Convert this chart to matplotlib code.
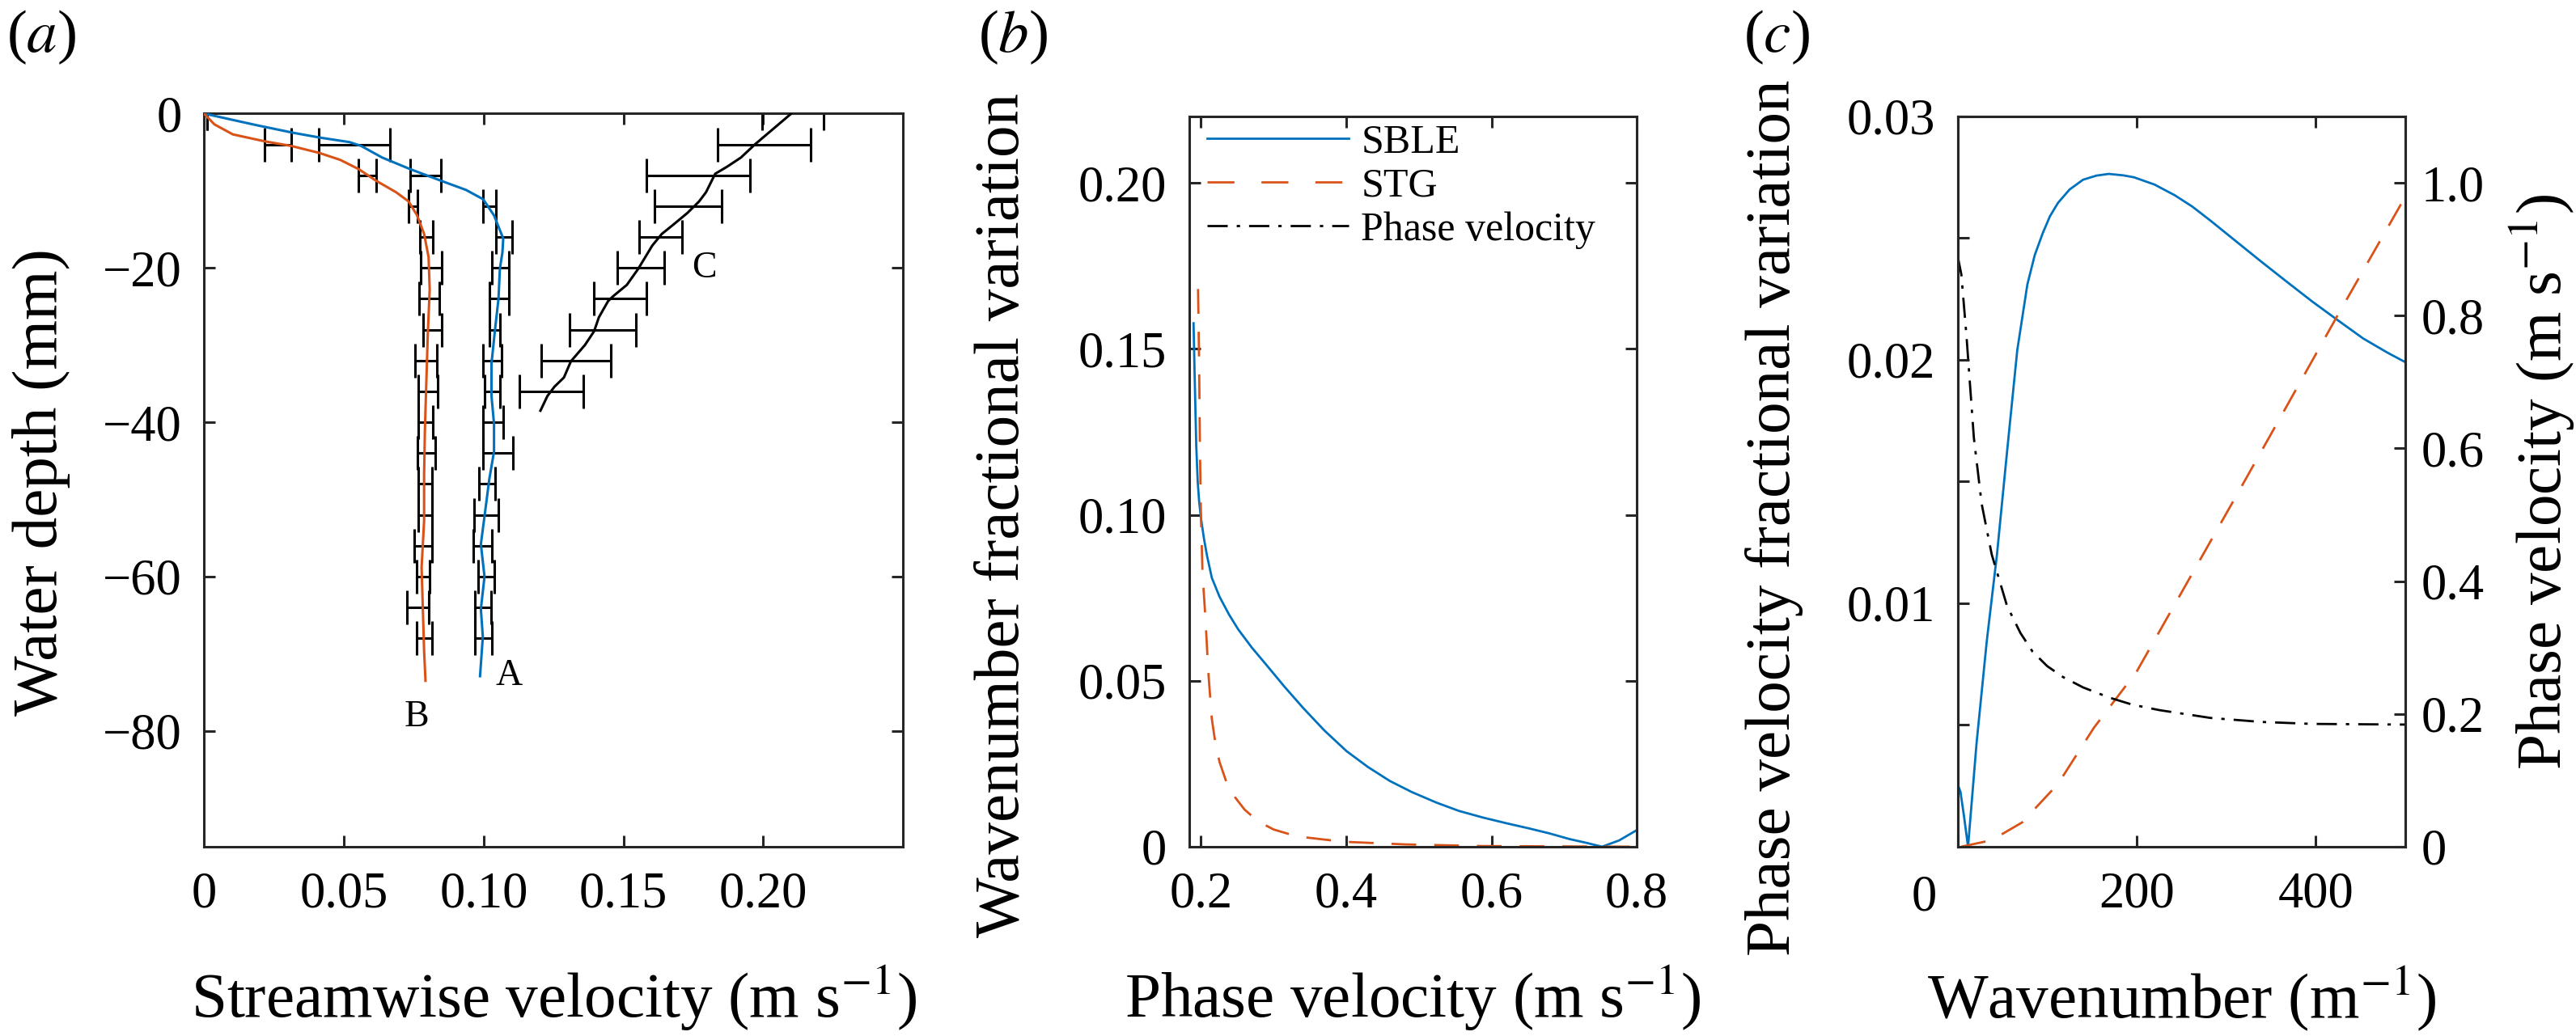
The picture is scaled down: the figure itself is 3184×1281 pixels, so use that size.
import matplotlib
matplotlib.use("Agg")
import matplotlib.pyplot as plt
from matplotlib.lines import Line2D

plt.rcParams['font.family'] = ['Liberation Serif', 'DejaVu Serif']
plt.rcParams['mathtext.fontset'] = 'stix'
plt.rcParams['lines.scale_dashes'] = False

BLUE = '#0072BD'
ORANGE = '#D95319'
AXC = '#262626'

# ---- panel (a): velocity profiles -------------------------------------
bar_depth = [0, -4, -8, -12, -16, -20, -24, -28, -32, -36, -40, -44, -48, -52, -56, -60, -64, -68]
a_bar_u = [0.0005, 0.0538, 0.0792, 0.1021, 0.1074, 0.1059, 0.1055, 0.1039, 0.1032, 0.1030,
           0.1034, 0.1051, 0.1011, 0.1010, 0.0995, 0.1009, 0.0998, 0.0999]
a_bar_err = [0.0005, 0.0127, 0.0055, 0.0023, 0.0029, 0.0031, 0.0035, 0.0019, 0.0033, 0.0027,
             0.0036, 0.0053, 0.0029, 0.0043, 0.0033, 0.0028, 0.0028, 0.0029]
b_bar_u = [0.0005, 0.0264, 0.0584, 0.0747, 0.0795, 0.0812, 0.0806, 0.0817, 0.0793, 0.0802,
           0.0791, 0.0795, 0.0791, 0.0790, 0.0784, 0.0784, 0.0764, 0.0788]
b_bar_err = [0.0005, 0.0048, 0.0031, 0.0015, 0.0022, 0.0038, 0.0036, 0.0033, 0.0039, 0.0035,
             0.0026, 0.0033, 0.0024, 0.0025, 0.0031, 0.0023, 0.0039, 0.0027]
c_bar_depth = [0, -4, -8, -12, -16, -20, -24, -28, -32, -36]
c_bar_u = [0.2106, 0.2003, 0.1768, 0.1730, 0.1632, 0.1562, 0.1488, 0.1425, 0.1330, 0.1242]
c_bar_err = [0.0110, 0.0167, 0.0185, 0.0120, 0.0076, 0.0083, 0.0095, 0.0118, 0.0125, 0.0114]

prof_a_u = [0, 0.0187, 0.032, 0.0412, 0.052, 0.0562, 0.0637, 0.0737, 0.0847, 0.0937, 0.0998,
            0.1037, 0.107, 0.1067, 0.1058, 0.1053, 0.104, 0.1028, 0.1028, 0.1037, 0.1037,
            0.102, 0.1003, 0.099, 0.1003, 0.099, 0.0997, 0.0987]
prof_a_z = [0, -1.5, -2.5, -3.1, -3.7, -4.2, -5.7, -7.2, -8.7, -9.9, -11.1, -13.2, -16.2,
            -18.0, -20.1, -24.0, -28.2, -32.4, -36.6, -40.2, -43.8, -47.4, -52.2, -55.8,
            -60.0, -64.2, -67.8, -72.9]
prof_b_u = [0, 0.0037, 0.0103, 0.0217, 0.0312, 0.0412, 0.0487, 0.0553, 0.0615, 0.0687, 0.0732,
            0.0762, 0.0787, 0.0803, 0.0807, 0.08, 0.0795, 0.079, 0.0787, 0.0787, 0.0778,
            0.0783, 0.0787, 0.0792]
prof_b_z = [0, -1.4, -2.7, -3.6, -4.2, -5.1, -6.0, -7.2, -8.7, -10.2, -11.4, -13.2, -15.6,
            -18.6, -22.8, -28.8, -34.8, -40.8, -46.8, -52.8, -58.8, -64.8, -69.6, -73.5]
prof_c_u = [0.21, 0.197, 0.192, 0.187, 0.1828, 0.1795, 0.177, 0.1728, 0.1678, 0.1637,
            0.1603, 0.1578, 0.1553, 0.1512, 0.1462, 0.1445, 0.1412, 0.1395, 0.1362, 0.1312,
            0.1287, 0.1253, 0.1228, 0.1203]
prof_c_z = [0, -4.0, -5.7, -6.9, -7.8, -10.2, -11.4, -12.9, -14.4, -15.6, -17.1, -18.6,
            -20.1, -22.2, -23.7, -24.3, -26.4, -28.2, -30.0, -32.1, -34.2, -35.4, -36.6, -38.5]

# ---- panel (b): wavenumber fractional variation vs phase velocity -------
sble_c = [0.1898, 0.1910, 0.1923, 0.1935, 0.1955, 0.1975, 0.2000, 0.2040, 0.2083, 0.2150,
          0.2256, 0.2385, 0.2512, 0.2700, 0.2896, 0.3150, 0.3407, 0.3700, 0.4004, 0.4300,
          0.4601, 0.4900, 0.5241, 0.5550, 0.5880, 0.6200, 0.6520, 0.6800, 0.7075, 0.7300,
          0.7522, 0.7757, 0.8000]
sble_k = [0.1577, 0.1450, 0.1325, 0.1210, 0.1100, 0.1040, 0.0990, 0.0930, 0.0877, 0.0810,
          0.0753, 0.0700, 0.0655, 0.0600, 0.0549, 0.0482, 0.0418, 0.0350, 0.0288, 0.0240,
          0.0198, 0.0165, 0.0133, 0.0108, 0.0088, 0.0071, 0.0055, 0.0040, 0.0023, 0.0012,
          0.0000, 0.0019, 0.0050]
stg_c = [0.1960, 0.1974, 0.1987, 0.2000, 0.2021, 0.2064, 0.2100, 0.2149, 0.2200, 0.2256,
         0.2350, 0.2469, 0.2600, 0.2789, 0.3000, 0.3322, 0.3962, 0.4814, 0.5880, 0.8000]
stg_k = [0.1680, 0.1465, 0.1185, 0.0996, 0.0827, 0.0680, 0.0530, 0.0386, 0.0310, 0.0255,
         0.0195, 0.0149, 0.0112, 0.0076, 0.0052, 0.0031, 0.0015, 0.0007, 0.0002, 0.0000]

# ---- panel (c): phase velocity fractional variation vs wavenumber -------
sble_wn = [0, 3, 6.8, 11.5, 21, 32.4, 43.8, 55, 66.5, 77.8, 86, 94.9, 103, 112, 125, 140,
           155, 168.8, 185, 197, 220, 242.6, 262, 282.4, 310, 339, 368, 396, 425, 453,
           480, 499.4]
sble_dc = [0.00255, 0.00226, 0.0013, 0.0, 0.00425, 0.00844, 0.012, 0.0162, 0.0204, 0.0231,
           0.0243, 0.0252, 0.0259, 0.02645, 0.0270, 0.0274, 0.02757, 0.02764, 0.02758,
           0.0275, 0.0272, 0.02676, 0.0263, 0.02572, 0.0249, 0.02404, 0.0232, 0.02240,
           0.02162, 0.02088, 0.02030, 0.01992]
stg_wn = [4, 38, 72, 112, 152, 200, 254, 311, 367.6, 424, 499.4]
stg_dc = [0, 0.00027, 0.001, 0.00258, 0.00488, 0.0072, 0.0107, 0.0144, 0.0181, 0.0218, 0.02666]
cp_wn = [0, 4, 9.7, 18, 26.7, 38, 55, 70, 83.5, 100, 117.6, 140, 168.8, 195, 225.6, 282.4,
         339, 396, 499.4]
cp_val = [0.889, 0.862, 0.77, 0.616, 0.5165, 0.44, 0.363, 0.322, 0.294, 0.272, 0.2556,
          0.240, 0.2249, 0.214, 0.2057, 0.194, 0.188, 0.185, 0.184]

TICK = 22.5
LABEL = 28.5

fig = plt.figure(figsize=(15.92, 6.405), dpi=200)
ax_a = fig.add_axes([0.0792, 0.1827, 0.2714, 0.7077])
ax_b = fig.add_axes([0.4617, 0.1827, 0.1737, 0.7049])
ax_c = fig.add_axes([0.7600, 0.1827, 0.1737, 0.7049])


def style(ax, right=True):
    for s in ax.spines.values():
        s.set_color(AXC)
        s.set_linewidth(1.1)
    ax.tick_params(direction='in', length=5, width=1.1, color=AXC, labelsize=TICK,
                   top=True, right=right)
    ax.tick_params(axis='x', pad=11)
    ax.tick_params(axis='y', pad=10)


# (a)
style(ax_a)
for u, z, e in [(a_bar_u, bar_depth, a_bar_err), (b_bar_u, bar_depth, b_bar_err),
                (c_bar_u, c_bar_depth, c_bar_err)]:
    ax_a.errorbar(u, z, xerr=e, fmt='none', ecolor='k', elinewidth=1.1,
                  capsize=7.5, capthick=1.1, zorder=2)
ax_a.plot(prof_a_u, prof_a_z, color=BLUE, lw=1.1, zorder=3)
ax_a.plot(prof_b_u, prof_b_z, color=ORANGE, lw=1.1, zorder=3)
ax_a.plot(prof_c_u, prof_c_z, color='k', lw=1.1, zorder=3)
ax_a.text(0.1091, -72.9, 'A', fontsize=16.5, ha='center', va='center')
ax_a.text(0.0759, -78.2, 'B', fontsize=16.5, ha='center', va='center')
ax_a.text(0.1788, -20.1, 'C', fontsize=16.5, ha='center', va='center')
ax_a.set_xlim(0, 0.25)
ax_a.set_ylim(-95, 0)
ax_a.set_xticks([0, 0.05, 0.10, 0.15, 0.20])
ax_a.set_xticklabels(['0', '0.05', '0.10', '0.15', '0.20'])
ax_a.set_yticks([0, -20, -40, -60, -80])
ax_a.set_xlabel(r'Streamwise velocity (m s$^{-1}$)', fontsize=LABEL)
ax_a.set_ylabel('Water depth (mm)', fontsize=LABEL)
ax_a.xaxis.set_label_coords(0.5, -0.2328)
ax_a.xaxis.label.set_va('baseline')
ax_a.yaxis.set_label_coords(-0.2326, 0.4975)
ax_a.yaxis.label.set_va('center')

# (c)
style(ax_c, right=False)
ax_c.plot(sble_wn, sble_dc, color=BLUE, lw=1.0)
ax_c.plot(stg_wn, stg_dc, color=ORANGE, lw=1.0, dashes=(11, 8))
ax_c.set_xlim(0, 500)
ax_c.set_ylim(0, 0.03)
ax_c.set_xticks([0, 200, 400])
ax_c.set_xticklabels(['', '200', '400'])
ax_c.set_yticks([0.005, 0.01, 0.015, 0.02, 0.025, 0.03])
ax_c.set_yticklabels(['', '0.01', '', '0.02', '', '0.03'])
ax_c.text(-0.076, -0.0388, '0', transform=ax_c.transAxes, fontsize=TICK,
          ha='center', va='top')
ax_c.set_xlabel(r'Wavenumber (m$^{-1}$)', fontsize=LABEL)
ax_c.set_ylabel('Phase velocity fractional variation', fontsize=LABEL)
ax_c.xaxis.set_label_coords(0.5, -0.2337)
ax_c.xaxis.label.set_va('baseline')
ax_c.yaxis.set_label_coords(-0.41, 0.45)
ax_c.yaxis.label.set_va('center')

ax_c2 = ax_c.twinx()
for s in ax_c2.spines.values():
    s.set_color(AXC)
    s.set_linewidth(1.1)
ax_c2.plot(cp_wn, cp_val, color='k', lw=1.0, dashes=(9, 4, 1.5, 4))
ax_c2.set_ylim(0, 1.1)
ax_c2.set_yticks([0, 0.2, 0.4, 0.6, 0.8, 1.0])
ax_c2.set_yticklabels(['0', '0.2', '0.4', '0.6', '0.8', '1.0'])
ax_c2.tick_params(direction='in', length=5, width=1.1, color=AXC, labelsize=TICK, pad=7)
ax_c2.set_ylabel(r'Phase velocity (m s$^{-1}$)', fontsize=LABEL)
ax_c2.yaxis.set_label_coords(1.306, 0.5)
ax_c2.yaxis.label.set_va('center')

# (b)
style(ax_b)
ax_b.plot(sble_c, sble_k, color=BLUE, lw=1.0)
ax_b.plot(stg_c, stg_k, color=ORANGE, lw=1.0, dashes=(11, 8))
ax_b.set_xlim(0.184, 0.8)
ax_b.set_ylim(0, 0.22)
ax_b.set_xticks([0.2, 0.4, 0.6, 0.8])
ax_b.set_xticklabels(['0.2', '0.4', '0.6', '0.8'])
ax_b.set_yticks([0, 0.05, 0.10, 0.15, 0.20])
ax_b.set_yticklabels(['0', '0.05', '0.10', '0.15', '0.20'])
ax_b.set_xlabel(r'Phase velocity (m s$^{-1}$)', fontsize=LABEL)
ax_b.set_ylabel('Wavenumber fractional variation', fontsize=LABEL)
ax_b.xaxis.set_label_coords(0.5, -0.2337)
ax_b.xaxis.label.set_va('baseline')
ax_b.yaxis.set_label_coords(-0.416, 0.454)
ax_b.yaxis.label.set_va('center')
leg_handles = [Line2D([], [], color=BLUE, lw=1.0),
               Line2D([], [], color=ORANGE, lw=1.0, dashes=(12, 12)),
               Line2D([], [], color='k', lw=1.0, dashes=(9, 4, 1.5, 4))]
ax_b.legend(leg_handles, ['SBLE', 'STG', 'Phase velocity'], loc='upper left',
            bbox_to_anchor=(0.04, 0.99), frameon=False, fontsize=18, handlelength=3.5,
            handletextpad=0.3, labelspacing=0.15, borderpad=0, borderaxespad=0)

fig.text(0.0025, 0.964, r'($a$)', fontsize=27, ha='left', va='center')
fig.text(0.3797, 0.964, r'($b$)', fontsize=27, ha='left', va='center')
fig.text(0.6768, 0.964, r'($c$)', fontsize=27, ha='left', va='center')

fig.savefig('out.png', dpi=200)
